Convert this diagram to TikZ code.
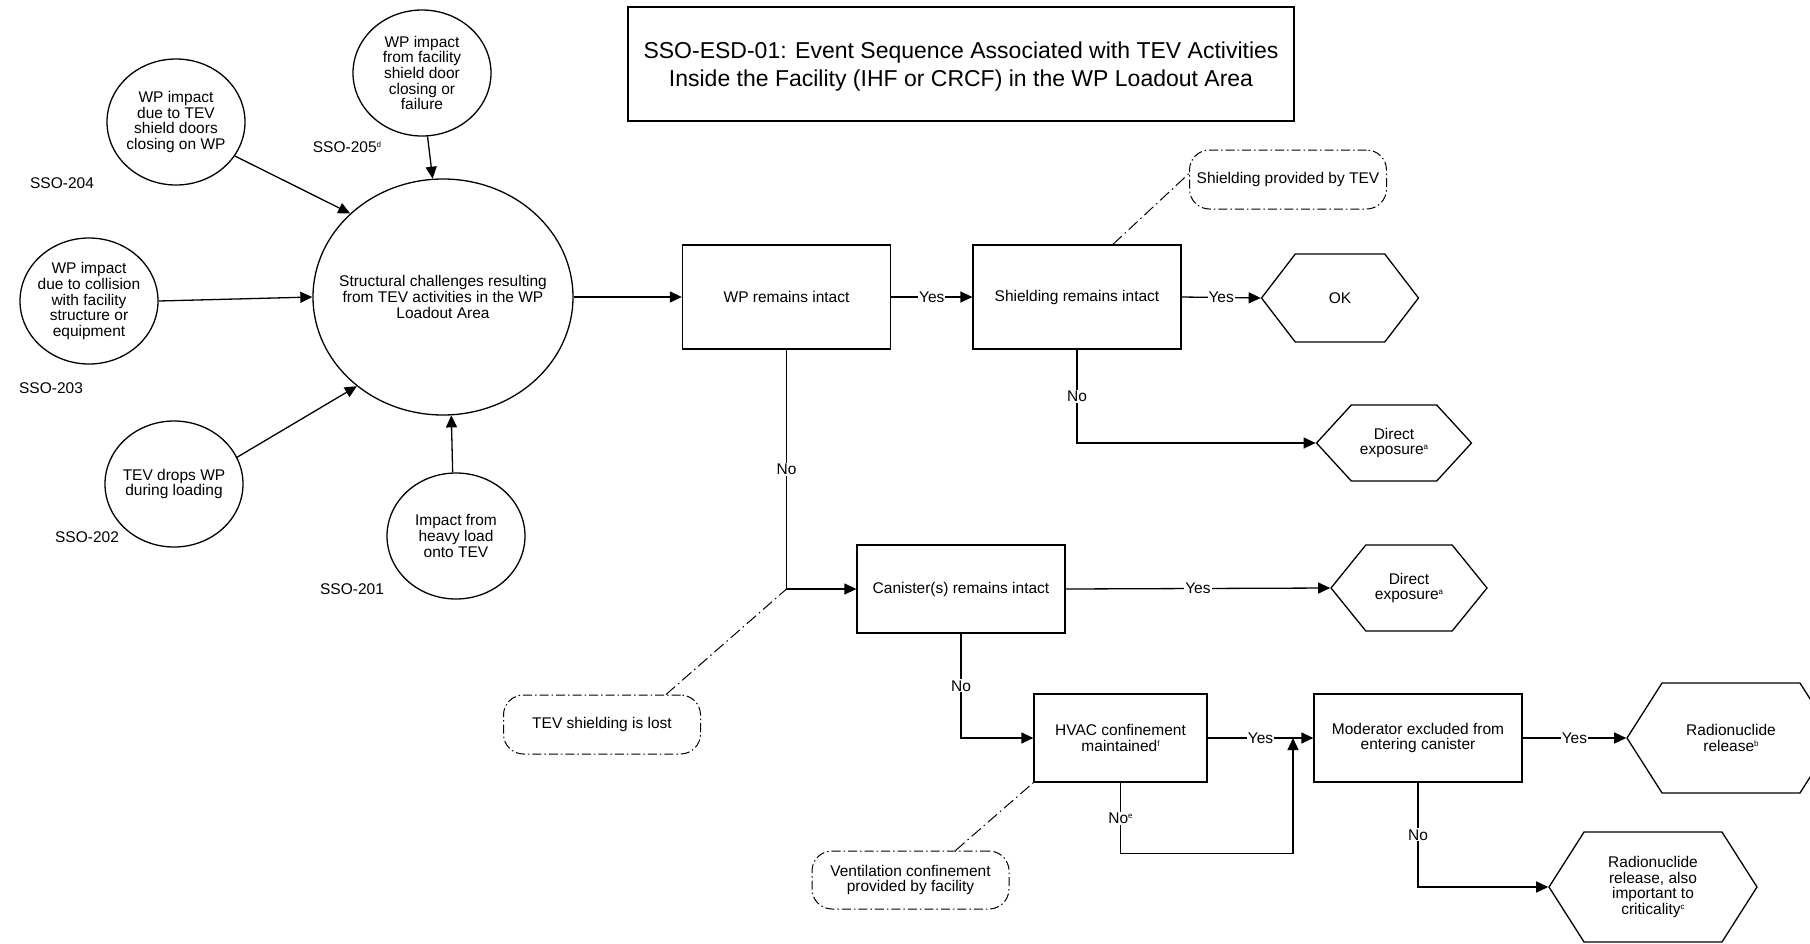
\documentclass[tikz,border=0pt]{standalone}
\usepackage{fontspec}
\setmainfont{Liberation Sans}
\usetikzlibrary{shapes.geometric,shapes.symbols,arrows.meta}

% small raised footnote marks
\newcommand\fnm[1]{\raisebox{0.6ex}{\fontsize{8}{8}\selectfont #1}}

\begin{document}
\begin{tikzpicture}[x=1pt,y=-1pt,
  every node/.style={font=\fontsize{15.5}{15.7}\selectfont, align=center, inner sep=2pt},
  arr/.style={line width=1.3pt, -{Triangle[length=12pt,width=11pt]}},
  initiator/.style={ellipse, draw, line width=1.3pt, minimum width=138pt, minimum height=126pt, inner sep=0pt},
  event/.style={rectangle, draw, line width=1.3pt, minimum width=208pt, minimum height=88pt},
  endstate/.style={signal, signal to=east and west, draw, line width=1.3pt, minimum width=208pt, minimum height=110pt},
  note/.style={rectangle, rounded corners=20pt, draw, line width=1pt, dash pattern=on 9pt off 3pt on 1.5pt off 3pt, minimum width=197pt, minimum height=59pt},
  noteline/.style={line width=1pt, dash pattern=on 12pt off 4pt on 1.5pt off 4pt},
  tag/.style={fill=white, inner sep=1pt}
]
\useasboundingbox (0,0) rectangle (1810,943);

% title
\node[draw, line width=1.3pt, minimum width=666pt, minimum height=114pt,
      label={[yshift=-3pt, font=\fontsize{23}{28}\selectfont]center:{SSO-ESD-01: Event Sequence Associated with TEV Activities\\Inside the Facility (IHF or CRCF) in the WP Loadout Area}}] (title) at (961,64) {};

% initiating events
\node[initiator, minimum width=260pt, minimum height=236pt,
      label={center:{Structural challenges resulting\\from TEV activities in the WP\\Loadout Area}}] (C0) at (443,297) {};
\node[initiator, label={center:{WP impact\\due to TEV\\shield doors\\closing on WP}}] (A) at (176,122) {};
\node[initiator, label={center:{WP impact\\from facility\\shield door\\closing or\\failure}}] (B) at (422,73) {};
\node[initiator, label={center:{WP impact\\due to collision\\with facility\\structure or\\equipment}}] (D) at (89,301) {};
\node[initiator, label={center:{TEV drops WP\\during loading}}] (E) at (174,484) {};
\node[initiator, label={center:{Impact from\\heavy load\\onto TEV}}] (F) at (456,536) {};

\node (lA) at (62,183) {SSO-204};
\node (lB) at (347,147) {SSO-205\fnm{d}};
\node (lD) at (51,388) {SSO-203};
\node (lE) at (87,537) {SSO-202};
\node (lF) at (352,589) {SSO-201};

% pivotal events
\node[event, minimum height=104pt] (R1) at (786.5,297) {WP remains intact};
\node[event, minimum height=104pt] (R2) at (1077,297) {Shielding remains intact};
\node[event] (R3) at (961,589) {Canister(s) remains intact};
\node[event, minimum width=173pt] (R4) at (1120.5,738) {HVAC confinement\\maintained\fnm{f}};
\node[event] (R5) at (1418,738) {Moderator excluded from\\entering canister};

% end states
\node[endstate, minimum width=157pt, minimum height=88pt, signal pointer angle=105] (OK) at (1340,298) {OK};
\node[endstate, minimum width=155pt, minimum height=76pt, signal pointer angle=95] (DE1) at (1394,443) {Direct\\exposure\fnm{a}};
\node[endstate, minimum width=156pt, minimum height=86pt, signal pointer angle=102] (DE2) at (1409,588) {Direct\\exposure\fnm{a}};
\node[endstate, signal pointer angle=115] (RR) at (1731,738) {Radionuclide\\release\fnm{b}};
\node[endstate, signal pointer angle=115] (RRC) at (1653,887) {Radionuclide\\release, also\\important to\\criticality\fnm{c}};

% notes
\node[note] (N1) at (1288,179.5) {Shielding provided by TEV};
\node[note] (N2) at (602,724.5) {TEV shielding is lost};
\node[note, minimum height=58pt] (N3) at (910.5,880) {Ventilation confinement\\provided by facility};

% initiators into the challenge
\draw[arr] (A.-30) -- (C0.138);
\draw[arr] (B.-85) -- (C0.95);
\draw[arr] (D.0) -- (C0.180);
\draw[arr] (E.23) -- (C0.226);
\draw[arr] (F.93) -- (C0.274);
\draw[arr] (C0.0) -- (R1.west);

% sequence branches
\draw[arr] (R1.east) -- node[tag]{Yes} (R2.west);
\draw[arr] (R2.east) -- node[tag]{Yes} (OK.west);
\draw[arr] (R2.south) |- node[tag, pos=0.25]{No} (DE1.west);
\draw[arr] (R1.south) |- node[tag, pos=0.25]{No} (R3.west);
\draw[arr] (R3.east) -- node[tag]{Yes} (DE2.west);
\draw[arr] (R3.south) |- node[tag, pos=0.25]{No} (R4.west);
\draw[arr] (R4.east) -- node[tag]{Yes} (R5.west);
\coordinate (J) at (1293,738);
\draw[arr] (R4.south) -- node[tag]{No\fnm{e}} ++(0,71) -| (J);
\draw[arr] (R5.east) -- node[tag]{Yes} (RR.west);
\draw[arr] (R5.south) |- node[tag, pos=0.25]{No} (RRC.west);

% note leaders
\coordinate (K) at (R1.south |- R3.west);
\draw[noteline] ([xshift=36pt]R2.north) -- ([yshift=6pt]N1.west);
\draw[noteline] ([xshift=64pt]N2.north) -- (K);
\draw[noteline] ([xshift=45pt]N3.north) -- (R4.south west);
\end{tikzpicture}
\end{document}
